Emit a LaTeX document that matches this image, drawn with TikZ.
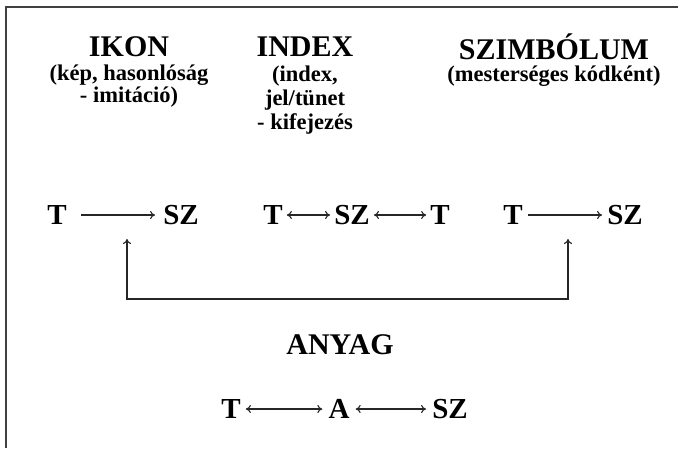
\documentclass[tikz,border=0pt]{standalone}
\usepackage{fontspec}
\setmainfont{Liberation Serif}
\usetikzlibrary{arrows.meta}
\begin{document}
\begin{tikzpicture}[x=1pt,y=-1pt,
  title/.style={font=\bfseries\fontsize{30}{34}\selectfont, inner sep=0pt},
  sub/.style={font=\bfseries\fontsize{22.5}{20}\selectfont, align=center, inner sep=0pt},
  lett/.style={font=\bfseries\fontsize{29}{34}\selectfont, inner sep=0pt},
  conn/.style={line width=1.1pt, color=black!85},
  tipr/.style={-{To[length=5pt,width=8pt]}},
  tipb/.style={{To[length=5pt,width=8pt]}-{To[length=5pt,width=8pt]}}
]
\useasboundingbox (0,0) rectangle (678,448);
\fill[white] (0,0) rectangle (678,448);
\draw[line width=1.6pt, black!75] (6,448) -- (6,7) -- (678,7);

% headings
\node[title] (ikon) at (129,47) {IKON};
\node[sub] (ikonsub) at (129,86) {(kép, hasonlóság\\- imitáció)};
\node[title] (index) at (305,47) {INDEX};
\node[sub, font=\bfseries\fontsize{22.5}{24}\selectfont] (indexsub) at (305,100) {(index,\\jel/tünet\\- kifejezés};
\node[title] (szimb) at (554,47) {SZIMBÓLUM};
\node[sub] (szimbsub) at (554,76) {(mesterséges kódként)};

% middle row
\node[lett] (t1) at (57,215) {T};
\node[lett] (sz1) at (181,215) {SZ};
\node[lett] (t2) at (273,215) {T};
\node[lett] (sz2) at (352,215) {SZ};
\node[lett] (t3) at (440,215) {T};
\node[lett] (t4) at (513,215) {T};
\node[lett] (sz4) at (625,215) {SZ};

\draw[conn,tipr] ([xshift=14pt]t1.east) -- ([xshift=-8pt]sz1.west);
\draw[conn,tipb] ([xshift=4pt]t2.east) -- ([xshift=-4pt]sz2.west);
\draw[conn,tipb] ([xshift=4pt]sz2.east) -- ([xshift=-4pt]t3.west);
\draw[conn,tipr] ([xshift=5pt]t4.east) -- ([xshift=-5pt]sz4.west);

% connecting bracket
\coordinate (a1) at (127,239);
\coordinate (c1) at (127,299);
\coordinate (c2) at (568,299);
\coordinate (a2) at (568,239);
\draw[conn,tipb] (a1) -- (c1) -- (c2) -- (a2);

% ANYAG
\node[title] (anyag) at (340,345) {ANYAG};
\node[lett] (t5) at (231,409) {T};
\node[lett] (a5) at (339,409) {A};
\node[lett] (sz5) at (450,409) {SZ};
\draw[conn,tipb] ([xshift=5pt]t5.east) -- ([xshift=-6pt]a5.west);
\draw[conn,tipb] ([xshift=6pt]a5.east) -- ([xshift=-6pt]sz5.west);
\end{tikzpicture}
\end{document}
